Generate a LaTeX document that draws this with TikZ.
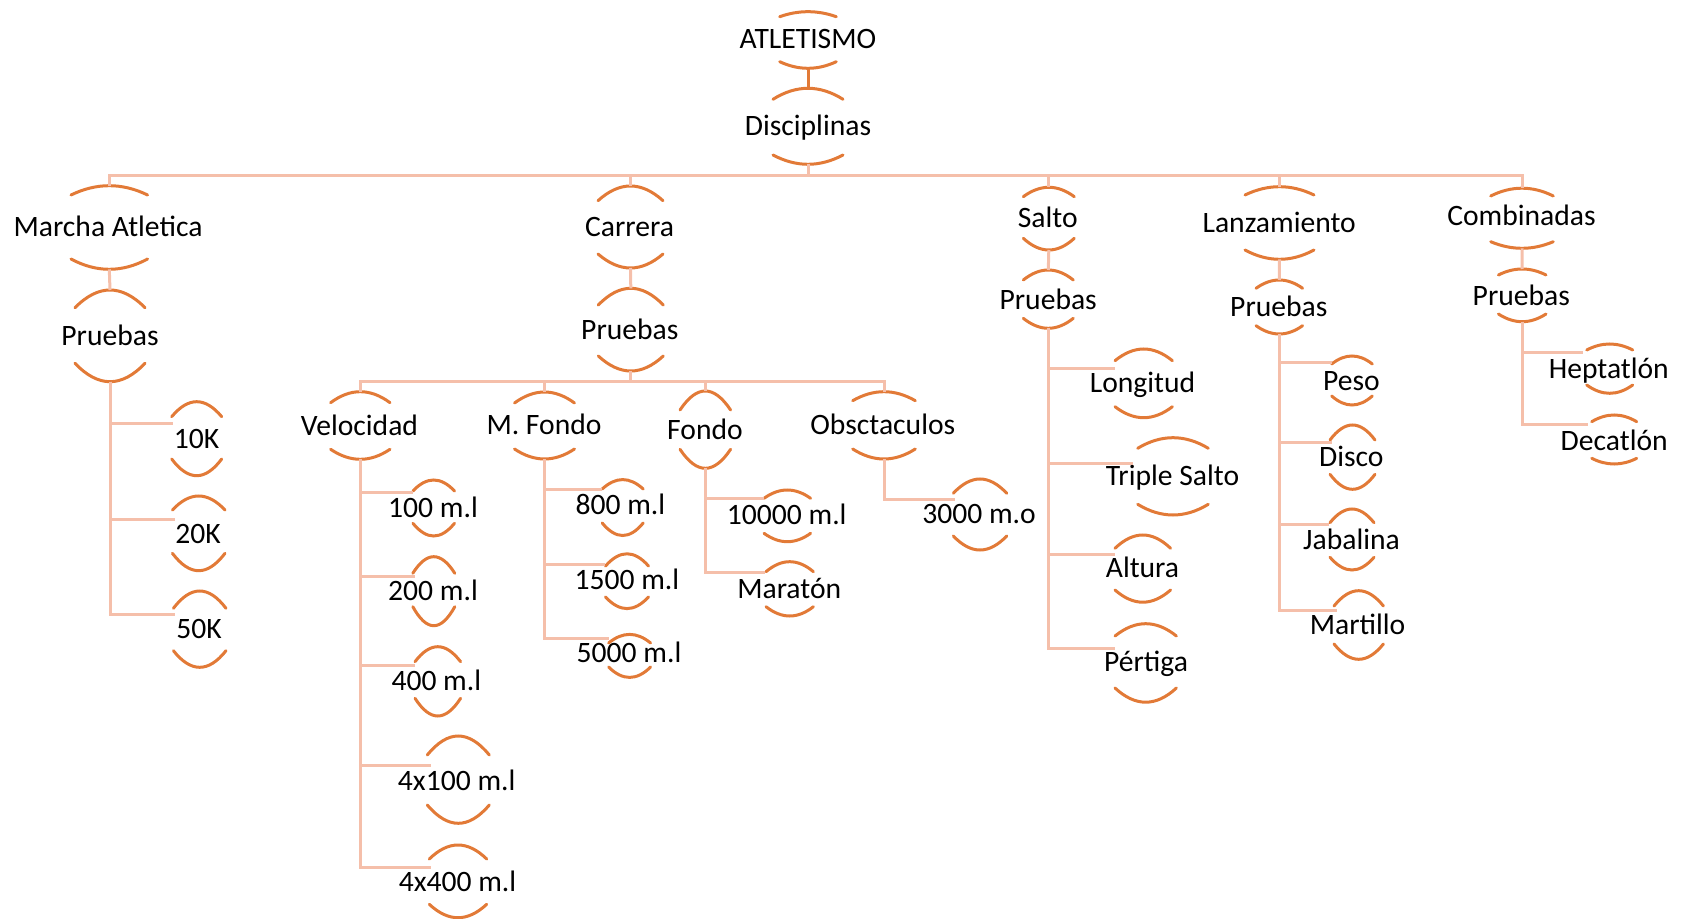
\documentclass[tikz,border=0pt]{standalone}
\usepackage{fontspec}
\setmainfont{Carlito}
\definecolor{arcc}{HTML}{E27A37}
\definecolor{connc}{HTML}{F5BFAA}
\newcommand\hArcs[7]{%
  \draw[arcline] ({#2-#3},#5) .. controls ({#2-#3/3},{#5+4/3*(#4-#5)}) and ({#2+#3/3},{#5+4/3*(#4-#5)}) .. ({#2+#3},#5);
  \draw[arcline] ({#2-#3},#6) .. controls ({#2-#3/3},{#6+4/3*(#7-#6)}) and ({#2+#3/3},{#6+4/3*(#7-#6)}) .. ({#2+#3},#6);
  \coordinate (#1-t) at (#2,#4);
  \coordinate (#1-b) at (#2,#7);
}
\begin{document}
\begin{tikzpicture}[x=0.5pt,y=-0.5pt,
  arcline/.style={draw=arcc,line width=1.5pt,line cap=round},
  conn/.style={draw=connc,line width=1.5pt},
  lbl/.style={inner sep=0pt,text height=0.644em,text depth=0pt,anchor=center,yshift=-1.8pt,
    font=\fontsize{14.8}{17}\selectfont}]
\useasboundingbox (0,0) rectangle (1686,919);
% ---------- text nodes ----------
\node[lbl] (atl) at (808,38.8) {ATLETISMO};
\node[lbl] (disc) at (808,125) {Disciplinas};
\node[lbl] (ma) at (108,226.5) {Marcha Atletica};
\node[lbl] (mp) at (110,335.3) {Pruebas};
\node[lbl] (k10) at (196.5,438) {10K};
\node[lbl] (k20) at (198,533) {20K};
\node[lbl] (k50) at (199,628.5) {50K};
\node[lbl] (carr) at (629.5,226) {Carrera};
\node[lbl] (cp) at (629.8,329) {Pruebas};
\node[lbl] (vel) at (359.5,425) {Velocidad};
\node[lbl] (v100) at (433,507) {100 m.l};
\node[lbl] (v200) at (433,590.5) {200 m.l};
\node[lbl] (v400) at (436.3,680) {400 m.l};
\node[lbl] (v4100) at (456.7,780) {4x100 m.l};
\node[lbl] (v4400) at (457.5,881.3) {4x400 m.l};
\node[lbl] (mf) at (544,424) {M. Fondo};
\node[lbl] (f800) at (620.4,504.3) {800 m.l};
\node[lbl] (f1500) at (626.9,579.6) {1500 m.l};
\node[lbl] (f5000) at (629,652.7) {5000 m.l};
\node[lbl] (fon) at (705,429) {Fondo};
\node[lbl] (m10000) at (786.7,514) {10000 m.l};
\node[lbl] (mar) at (789.2,588) {Maratón};
\node[lbl] (obs) at (882.8,424) {Obsctaculos};
\node[lbl] (m3000) at (979,513) {3000 m.o};
\node[lbl] (sal) at (1047.8,217) {Salto};
\node[lbl] (sp) at (1048.2,299.5) {Pruebas};
\node[lbl] (lon) at (1142.5,382) {Longitud};
\node[lbl] (tri) at (1172.5,475.5) {Triple Salto};
\node[lbl] (alt) at (1142.5,567.8) {Altura};
\node[lbl] (per) at (1146,661.3) {Pértiga};
\node[lbl] (lan) at (1279.2,222) {Lanzamiento};
\node[lbl] (lp) at (1278.8,306) {Pruebas};
\node[lbl] (peso) at (1351.5,380.5) {Peso};
\node[lbl] (dis) at (1351.3,456) {Disco};
\node[lbl] (jab) at (1351.5,539) {Jabalina};
\node[lbl] (mart) at (1357.5,624) {Martillo};
\node[lbl] (com) at (1521.5,215) {Combinadas};
\node[lbl] (cop) at (1521.3,295.3) {Pruebas};
\node[lbl] (hep) at (1608.8,368.7) {Heptatlón};
\node[lbl] (dec) at (1614.2,440) {Decatlón};
% ---------- arcs ----------
\hArcs{atl}{808}{28.3}{11.7}{16.7}{61.7}{68.3}
\hArcs{disc}{808}{35}{88.3}{99.3}{155}{164.3}
\hArcs{ma}{109.3}{38.3}{185.7}{195}{259}{269.3}
\hArcs{mp}{110}{35}{290}{307.7}{363.3}{381.7}
\hArcs{k10}{196.7}{25}{401.7}{416.7}{459}{475.7}
\hArcs{k20}{198.7}{26.3}{496}{510}{553.3}{570.7}
\hArcs{k50}{199.7}{26.3}{591}{608.3}{650.7}{667.3}
\hArcs{carr}{630.5}{32.5}{186}{200.7}{254}{268}
\hArcs{cp}{630.8}{32.5}{288.3}{305}{356}{371}
\hArcs{vel}{360.3}{29.7}{391.7}{402.7}{449.3}{459.3}
\hArcs{v100}{433.7}{20.8}{480}{491}{523.3}{536}
\hArcs{v200}{433.8}{21}{556.7}{573.3}{606.7}{625.7}
\hArcs{v400}{437.8}{22.8}{646.7}{661.7}{698.3}{716}
\hArcs{v4100}{458.3}{31}{736}{755}{805}{823.3}
\hArcs{v4400}{458}{28.7}{845}{859}{904.3}{917.7}
\hArcs{mf}{544.5}{30}{392}{403}{449}{459}
\hArcs{f800}{622.7}{20.5}{479.6}{489}{523}{535.5}
\hArcs{f1500}{627}{21.5}{553.8}{566}{597}{608.6}
\hArcs{f5000}{629.6}{21}{634.4}{643}{667}{677.4}
\hArcs{fon}{705.3}{25.3}{391}{410}{449.3}{468.3}
\hArcs{m10000}{787.3}{23.3}{490}{498.3}{533.3}{541.7}
\hArcs{mar}{789.7}{23.7}{561.7}{571.7}{606.7}{616}
\hArcs{obs}{884}{31.3}{391.7}{400.7}{449}{459}
\hArcs{m3000}{980}{26.7}{479}{493.3}{536}{550}
\hArcs{sal}{1048.8}{25.5}{187.3}{196.7}{238.3}{250}
\hArcs{sp}{1048.3}{25}{270}{280}{318.3}{328.3}
\hArcs{lon}{1143.7}{28.7}{349}{360.7}{406.7}{417.7}
\hArcs{tri}{1173}{35.3}{437.7}{448.3}{504.3}{515}
\hArcs{alt}{1142.8}{27.8}{535}{548.3}{590}{602.2}
\hArcs{per}{1145.7}{30.7}{623.7}{636}{688}{702.2}
\hArcs{lan}{1279.5}{34.5}{186.7}{195}{250}{259.3}
\hArcs{lp}{1279.3}{23.3}{280}{288.3}{325.7}{334}
\hArcs{peso}{1352}{20.3}{356}{364}{396}{405}
\hArcs{dis}{1352.5}{22.5}{425}{440}{474.3}{489.3}
\hArcs{jab}{1352}{22}{509}{522.7}{557.3}{570}
\hArcs{mart}{1358.7}{24.7}{590.7}{606}{644}{659.3}
\hArcs{com}{1522}{31.3}{188.2}{196}{241.7}{248.3}
\hArcs{cop}{1522.2}{23.8}{269}{275}{314}{321.7}
\hArcs{hep}{1609.7}{23}{344}{350}{385}{393.3}
\hArcs{dec}{1614.2}{22.5}{415}{421.7}{458.3}{464}
% ---------- connector end points ----------
\coordinate (bus1) at (808,175.7);
\coordinate (bus2) at (630.8,381.7);
\coordinate (k10-w) at (173.3,424);
\coordinate (k20-w) at (175,519.3);
\coordinate (k50-w) at (175,614.3);
\coordinate (v100-w) at (413.3,492.3);
\coordinate (v200-w) at (415,576.7);
\coordinate (v400-w) at (415,665.7);
\coordinate (v4100-w) at (430.7,765.7);
\coordinate (v4400-w) at (430.7,867.3);
\coordinate (f800-w) at (602,489.3);
\coordinate (f1500-w) at (605,564.5);
\coordinate (f5000-w) at (608.6,638.7);
\coordinate (m10000-w) at (764,498.3);
\coordinate (mar-w) at (765,572.7);
\coordinate (m3000-w) at (955,499.3);
\coordinate (lon-w) at (1115,368.3);
\coordinate (tri-w) at (1133.3,463.3);
\coordinate (alt-w) at (1115,554.3);
\coordinate (per-w) at (1115,648.8);
\coordinate (peso-w) at (1331.7,362.7);
\coordinate (dis-w) at (1331.7,442.3);
\coordinate (jab-w) at (1329.3,524);
\coordinate (mart-w) at (1336.7,610.7);
\coordinate (hep-w) at (1583.3,352.3);
\coordinate (dec-w) at (1587.7,424.3);
% ---------- connectors ----------
\draw[conn,draw=arcc] (atl-b) -- (disc-t);
\draw[conn] (disc-b) -- (bus1);
\foreach \c in {ma,carr,sal,lan,com} \draw[conn] (bus1) -| (\c-t);
\draw[conn] (ma-b) -- (mp-t);
\draw[conn] (carr-b) -- (cp-t);
\draw[conn] (sal-b) -- (sp-t);
\draw[conn] (lan-b) -- (lp-t);
\draw[conn] (com-b) -- (cop-t);
\draw[conn] (cp-b) -- (bus2);
\foreach \c in {vel,mf,fon,obs} \draw[conn] (bus2) -| (\c-t);
\foreach \c in {k10,k20,k50} \draw[conn] (mp-b) |- (\c-w);
\foreach \c in {v100,v200,v400,v4100,v4400} \draw[conn] (vel-b) |- (\c-w);
\foreach \c in {f800,f1500,f5000} \draw[conn] (mf-b) |- (\c-w);
\foreach \c in {m10000,mar} \draw[conn] (fon-b) |- (\c-w);
\draw[conn] (obs-b) |- (m3000-w);
\foreach \c in {lon,tri,alt,per} \draw[conn] (sp-b) |- (\c-w);
\foreach \c in {peso,dis,jab,mart} \draw[conn] (lp-b) |- (\c-w);
\foreach \c in {hep,dec} \draw[conn] (cop-b) |- (\c-w);
\end{tikzpicture}
\end{document}
